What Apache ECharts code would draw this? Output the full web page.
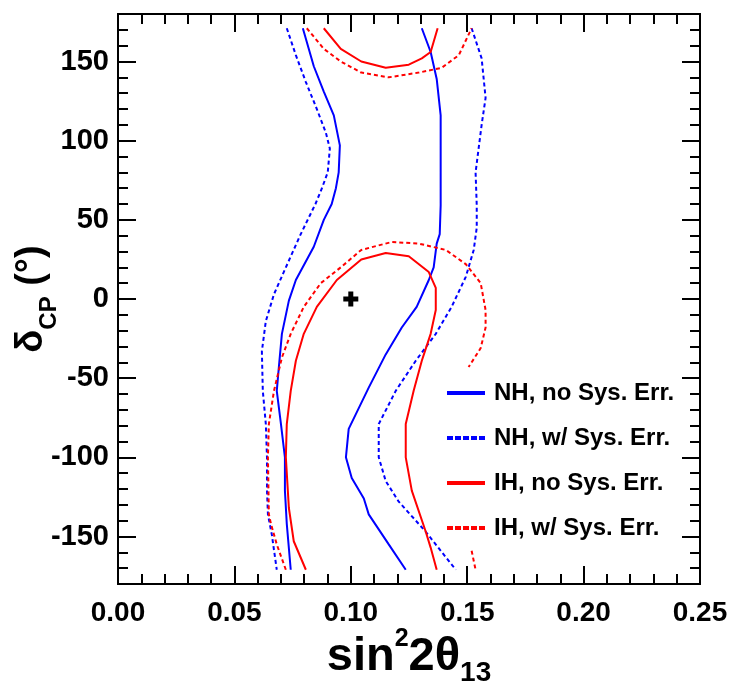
<!DOCTYPE html>
<html>
<head>
<meta charset="utf-8">
<script src="https://cdn.jsdelivr.net/npm/echarts@6/dist/echarts.min.js"></script>
<style>
  html, body { margin: 0; padding: 0; background: #fff; }
  #chart { width: 734px; height: 689px; }
</style>
</head>
<body>
<div id="chart"></div>
<script>
// contour points: [sin^2 2theta13, deltaCP in degrees]
// each contour comes in two pieces (left/top and right/bottom branch)
var nhNoSysLeft = [[0.0794,171],[0.0841,147],[0.0884,131],[0.0927,116],[0.0953,97],[0.0948,80],[0.0936,70],[0.0918,60],[0.0884,50],[0.0841,33],[0.0764,12],[0.0734,-1],[0.0704,-22],[0.0691,-43],[0.0682,-58],[0.0700,-79],[0.0717,-100],[0.0717,-121],[0.0725,-142],[0.0742,-171]];
var nhNoSysRight = [[0.1305,171],[0.1343,156],[0.1369,139],[0.1386,116],[0.1386,94],[0.1386,59],[0.1382,41],[0.1369,35],[0.1356,20],[0.1335,12],[0.1283,-5],[0.1219,-18],[0.1150,-35],[0.1077,-56],[0.0991,-82],[0.0979,-100],[0.1004,-113],[0.1056,-126],[0.1077,-136],[0.1163,-155],[0.1236,-171]];
var nhSysLeft = [[0.0725,171],[0.0764,154],[0.0807,137],[0.0854,120],[0.0893,105],[0.0910,95],[0.0901,80],[0.0876,70],[0.0848,60],[0.0785,41],[0.0721,20],[0.0670,3],[0.0635,-14],[0.0618,-33],[0.0622,-58],[0.0635,-79],[0.0640,-100],[0.0640,-121],[0.0644,-136],[0.0661,-149],[0.0682,-171]];
var nhSysRight = [[0.1519,171],[0.1562,152],[0.1579,127],[0.1562,110],[0.1549,95],[0.1536,80],[0.1541,59],[0.1541,45],[0.1528,31],[0.1494,14],[0.1433,-5],[0.1365,-22],[0.1279,-39],[0.1193,-58],[0.1120,-79],[0.1120,-100],[0.1150,-115],[0.1206,-128],[0.1322,-147],[0.1451,-171]];
var ihNoSysTop = [[0.0884,171],[0.0957,158],[0.1045,150],[0.1150,146],[0.1249,148],[0.1305,152],[0.1343,156],[0.1373,171]];
var ihNoSysBottom = [[0.0807,-171],[0.0755,-153],[0.0734,-132],[0.0721,-100],[0.0725,-79],[0.0742,-58],[0.0764,-39],[0.0798,-22],[0.0854,-5],[0.0940,12],[0.1045,25],[0.1150,29],[0.1249,27],[0.1335,17],[0.1365,7],[0.1365,-7],[0.1343,-22],[0.1305,-39],[0.1270,-58],[0.1236,-79],[0.1236,-100],[0.1262,-121],[0.1322,-147],[0.1343,-157],[0.1369,-171]];
var ihSysTop = [[0.0811,171],[0.0884,158],[0.0957,150],[0.1045,143],[0.1163,140],[0.1292,143],[0.1390,146],[0.1464,154],[0.1519,171]];
var ihSysBottom = [[0.0721,-171],[0.0682,-155],[0.0657,-142],[0.0648,-136],[0.0644,-100],[0.0648,-79],[0.0670,-58],[0.0704,-37],[0.0742,-22],[0.0798,-5],[0.0871,10],[0.0957,20],[0.1045,31],[0.1176,36],[0.1292,35],[0.1408,31],[0.1494,22],[0.1558,10],[0.1579,-7],[0.1579,-18],[0.1558,-31],[0.1506,-43]];
var ihSysTail = [[0.1519,-159],[0.1536,-171]];
var bestFit = [[0.10, 0]];

var seriesNames = ['NH, no Sys. Err.', 'NH, w/ Sys. Err.', 'IH, no Sys. Err.', 'IH, w/ Sys. Err.'];
var yMajorTicks = [-150, -100, -50, 0, 50, 100, 150];

var FONT = 'Liberation Sans';
var GAP = ['-', '-'];

// legend keys drawn as plain bars, the dashed one as five short dashes
var solidIcon = 'path://M0,0H38V4H0Z';
var dashIcon = 'path://M0,0H6V4H0Z M8,0H14V4H8Z M16,0H22V4H16Z M24,0H30V4H24Z M32,0H38V4H32Z';

// join the pieces of one contour with an empty point so they stay separate
function pieces() {
  var out = [];
  for (var i = 0; i < arguments.length; i++) {
    if (i > 0) out.push(GAP);
    out = out.concat(arguments[i]);
  }
  return out;
}

function contour(name, color, dashed, data) {
  return {
    name: name,
    type: 'line',
    symbol: 'none',
    connectNulls: false,
    data: data,
    lineStyle: { color: color, width: 2, type: dashed ? [4, 3] : 'solid' },
    itemStyle: { color: color },
    z: 3
  };
}

var tickStyle = { color: '#000', width: 2 };

function xAxisDef(pos, withLabels) {
  return {
    type: 'value',
    position: pos,
    min: 0,
    max: 0.25,
    interval: 0.05,
    axisLine: { onZero: false, lineStyle: { color: '#000', width: 2 } },
    axisTick: { inside: true, length: 18, lineStyle: tickStyle },
    minorTick: { show: true, splitNumber: 5, length: 10, lineStyle: tickStyle },
    splitLine: { show: false },
    axisLabel: {
      show: withLabels,
      formatter: function (v) { return v.toFixed(2); },
      fontFamily: FONT, fontSize: 28, fontWeight: 'bold', color: '#000', margin: 15
    }
  };
}

function yMinorAxis(pos) {
  return {
    type: 'value',
    position: pos,
    min: -180,
    max: 180,
    interval: 10,
    axisLine: { onZero: false, lineStyle: { color: '#000', width: 2 } },
    axisTick: { inside: true, length: 10, lineStyle: tickStyle },
    splitLine: { show: false },
    axisLabel: { show: false }
  };
}

function yMajorAxis(pos, withLabels) {
  return {
    type: 'value',
    position: pos,
    min: -180,
    max: 180,
    axisLine: { onZero: false, lineStyle: { color: '#000', width: 2 } },
    axisTick: { inside: true, length: 18, lineStyle: tickStyle, customValues: yMajorTicks },
    splitLine: { show: false },
    axisLabel: {
      show: withLabels,
      customValues: yMajorTicks,
      fontFamily: FONT, fontSize: 29, fontWeight: 'bold', color: '#000', margin: 9
    }
  };
}

var chart = echarts.init(document.getElementById('chart'));

var xBottom = xAxisDef('bottom', true);
xBottom.name = '{a|sin}{sup|2}{a|2θ}{sub|13}';
xBottom.nameLocation = 'middle';
xBottom.nameGap = 43;
xBottom.nameMoveOverlap = false;
xBottom.nameTextStyle = {
  color: '#000',
  rich: {
    a: { fontFamily: FONT, fontWeight: 'bold', fontSize: 47, color: '#000', lineHeight: 60, verticalAlign: 'middle' },
    sup: { fontFamily: FONT, fontWeight: 'bold', fontSize: 25, color: '#000', lineHeight: 44, verticalAlign: 'top' },
    sub: { fontFamily: FONT, fontWeight: 'bold', fontSize: 28, color: '#000', lineHeight: 24, verticalAlign: 'bottom' }
  }
};

var yLeft = yMajorAxis('left', true);
yLeft.name = '{d|δ}{s|CP}{p| (°)}';
yLeft.nameLocation = 'middle';
yLeft.nameGap = 57;
yLeft.nameMoveOverlap = false;
yLeft.nameTextStyle = {
  color: '#000',
  rich: {
    d: { fontFamily: FONT, fontWeight: 'bold', fontSize: 38, color: '#000', lineHeight: 34, verticalAlign: 'top' },
    s: { fontFamily: FONT, fontWeight: 'bold', fontSize: 24, color: '#000', lineHeight: 25, verticalAlign: 'bottom' },
    p: { fontFamily: FONT, fontWeight: 'bold', fontSize: 38, color: '#000', lineHeight: 48, verticalAlign: 'top' }
  }
};

var option = {
  backgroundColor: '#fff',
  animation: false,
  grid: { left: 118, right: 34, top: 14, bottom: 105, containLabel: false, outerBoundsMode: 'none' },
  legend: {
    data: [
      { name: seriesNames[0], icon: solidIcon },
      { name: seriesNames[1], icon: dashIcon },
      { name: seriesNames[2], icon: solidIcon },
      { name: seriesNames[3], icon: dashIcon }
    ],
    orient: 'vertical',
    left: 442,
    top: 376,
    itemWidth: 38,
    itemHeight: 4,
    itemGap: 21,
    textStyle: { fontFamily: FONT, fontSize: 24, fontWeight: 'bold', color: '#000', padding: [0, 0, 0, 4] }
  },
  xAxis: [xBottom, xAxisDef('top', false)],
  yAxis: [yMinorAxis('left'), yLeft, yMinorAxis('right'), yMajorAxis('right', false)],
  series: [
    contour(seriesNames[0], '#0000ff', false, pieces(nhNoSysLeft, nhNoSysRight)),
    contour(seriesNames[1], '#0000ff', true, pieces(nhSysLeft, nhSysRight)),
    contour(seriesNames[2], '#ff0000', false, pieces(ihNoSysTop, ihNoSysBottom)),
    contour(seriesNames[3], '#ff0000', true, pieces(ihSysTop, ihSysBottom, ihSysTail)),
    {
      name: 'best fit',
      type: 'scatter',
      data: bestFit,
      symbol: 'path://M-1,-3H1V-1H3V1H1V3H-1V1H-3V-1H-1Z',
      symbolSize: 15,
      itemStyle: { color: '#000', opacity: 1 },
      z: 4
    }
  ]
};

chart.setOption(option);
</script>
</body>
</html>
